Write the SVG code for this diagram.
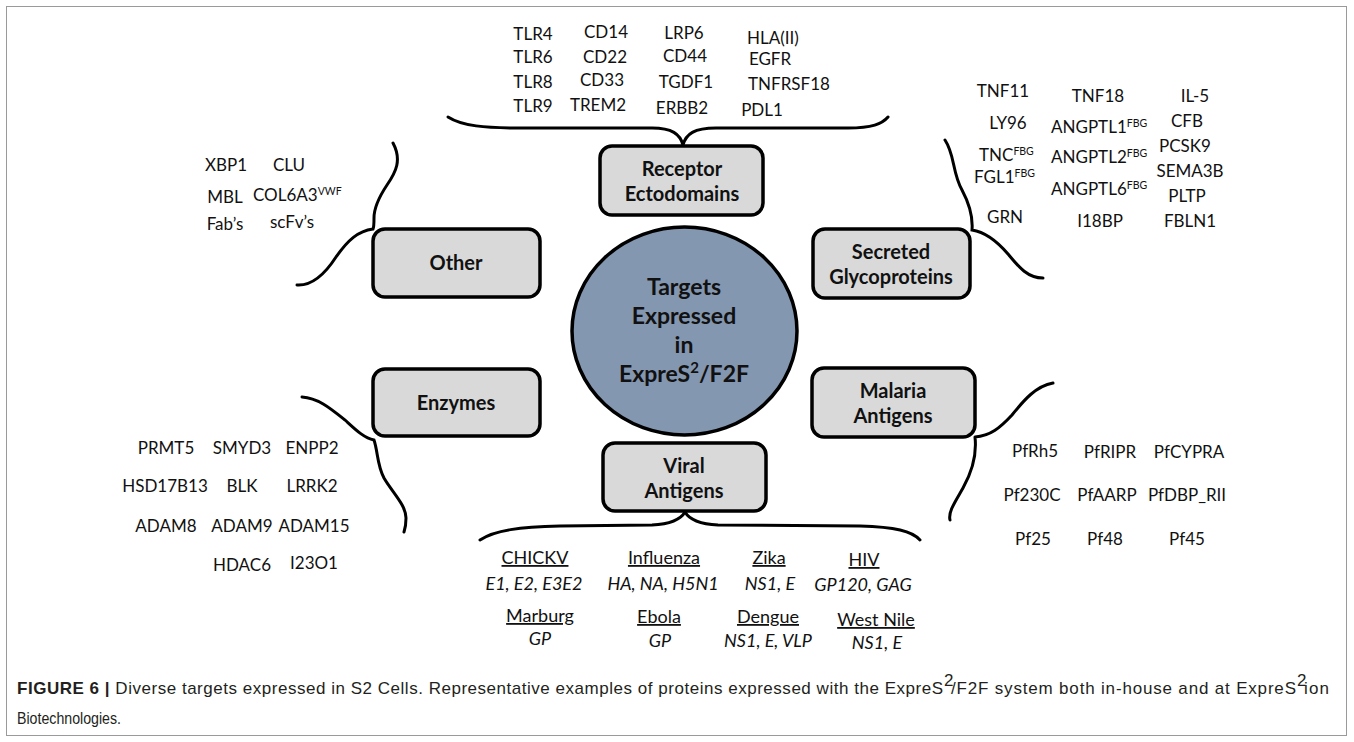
<svg xmlns="http://www.w3.org/2000/svg" width="1354" height="742" viewBox="0 0 1354 742">
<style>
.box{fill:#d9d9d9;stroke:#000;stroke-width:3.5}
.bl{font-family:Lato,"Open Sans","Liberation Sans",sans-serif;font-weight:bold;font-size:20px;fill:#111;text-anchor:middle}
.ct{font-family:Lato,"Open Sans","Liberation Sans",sans-serif;font-weight:bold;font-size:23px;fill:#111;text-anchor:middle}
.it{font-family:Lato,"Open Sans","Liberation Sans",sans-serif;font-size:17px;fill:#111;text-anchor:middle}
.st{font-family:Lato,"Open Sans","Liberation Sans",sans-serif;font-size:17px;fill:#111}
.sup{font-size:10.5px}
.vn{font-family:Lato,"Open Sans","Liberation Sans",sans-serif;font-size:18px;fill:#111;text-anchor:middle;text-decoration:underline}
.vi{font-family:Lato,"Open Sans","Liberation Sans",sans-serif;font-size:18px;font-style:italic;fill:#111;text-anchor:middle}
.br{fill:none;stroke:#000;stroke-width:3;stroke-linecap:round}
.cap{font-family:"Liberation Sans Narrow","Liberation Sans",Arial,sans-serif;font-size:17px;fill:#231f20}
</style>
<rect x="6.5" y="6.5" width="1340" height="729" fill="#fff" stroke="#9a9a9a" stroke-width="1"/>

<g id="connectors">
<path class="br" d="M448,117 C462,126 485,128 520,128 L652,128 C672,128 680,134 683,145 C686,134 694,128 716,128 L848,128 C872,128 882,124 888,117"/>
<path class="br" d="M480,540 C495,530 520,527 560,526 L652,525 C672,524 681,519 685,512 C689,519 698,524 718,525 L860,526 C895,527 912,531 920,540"/>
<path class="br" d="M393,143 C402,160 396,172 387,185 C379,197 374,208 374,218 C374,224 374,227 373,229 C358,231 348,240 336,257 C325,274 312,286 297,285"/>
<path class="br" d="M945,140 C955,155 952,172 962,190 C970,205 973,218 972,230 C985,232 996,240 1008,254 C1018,266 1027,278 1043,278"/>
<path class="br" d="M302,397 C318,398 330,408 345,420 C356,430 364,438 374,440 C378,452 377,465 384,478 C392,492 406,505 406,518 C406,525 405,529 404,532"/>
<path class="br" d="M975,437 C990,436 1000,428 1012,415 C1024,400 1036,386 1053,383 M975,437 C977,455 972,472 963,488 C955,502 948,512 950,520"/>
</g>

<g id="center">
<ellipse cx="684.5" cy="331" rx="112.5" ry="104" fill="#8497b0" stroke="#000" stroke-width="3.5"/>
<text class="ct" x="684" y="295">Targets</text>
<text class="ct" x="684" y="324">Expressed</text>
<text class="ct" x="684" y="353">in</text>
<text class="ct" x="684" y="382">ExpreS<tspan font-size="15" dy="-9">2</tspan><tspan dy="9">/F2F</tspan></text>
</g>

<g id="receptor-ectodomains">
<rect class="box" x="600" y="146" width="163" height="69" rx="12"/>
<text class="bl" x="682" y="176">Receptor</text>
<text class="bl" x="682" y="201">Ectodomains</text>
</g>
<g id="secreted-glycoproteins">
<rect class="box" x="813" y="229" width="157" height="69" rx="12"/>
<text class="bl" x="891" y="259">Secreted</text>
<text class="bl" x="891" y="284">Glycoproteins</text>
</g>
<g id="other">
<rect class="box" x="373" y="229" width="167" height="68" rx="12"/>
<text class="bl" x="456" y="270">Other</text>
</g>
<g id="enzymes">
<rect class="box" x="373" y="369" width="167" height="67" rx="12"/>
<text class="bl" x="456" y="410">Enzymes</text>
</g>
<g id="malaria-antigens">
<rect class="box" x="812" y="368" width="163" height="69" rx="12"/>
<text class="bl" x="893" y="398">Malaria</text>
<text class="bl" x="893" y="423">Antigens</text>
</g>
<g id="viral-antigens">
<rect class="box" x="603" y="443" width="163" height="68" rx="12"/>
<text class="bl" x="684" y="473">Viral</text>
<text class="bl" x="684" y="498">Antigens</text>
</g>

<g id="receptor-list">
<text class="it" x="533" y="40">TLR4</text>
<text class="it" x="606" y="38">CD14</text>
<text class="it" x="684" y="39">LRP6</text>
<text class="it" x="773" y="44">HLA(II)</text>
<text class="it" x="533" y="63">TLR6</text>
<text class="it" x="605" y="63">CD22</text>
<text class="it" x="685" y="62">CD44</text>
<text class="it" x="770" y="65">EGFR</text>
<text class="it" x="533" y="88">TLR8</text>
<text class="it" x="602" y="86">CD33</text>
<text class="it" x="686" y="88">TGDF1</text>
<text class="it" x="789" y="90">TNFRSF18</text>
<text class="it" x="533" y="112">TLR9</text>
<text class="it" x="598" y="111">TREM2</text>
<text class="it" x="682" y="114">ERBB2</text>
<text class="it" x="762" y="116">PDL1</text>
</g>

<g id="secreted-list">
<text class="it" x="1003" y="97">TNF11</text>
<text class="it" x="1098" y="102">TNF18</text>
<text class="it" x="1195" y="102">IL-5</text>
<text class="it" x="1008" y="129">LY96</text>
<text class="st" x="1051" y="133">ANGPTL1<tspan class="sup" dy="-6">FBG</tspan></text>
<text class="it" x="1187" y="127">CFB</text>
<text class="st" x="979" y="161">TNC<tspan class="sup" dy="-6">FBG</tspan></text>
<text class="st" x="1051" y="163">ANGPTL2<tspan class="sup" dy="-6">FBG</tspan></text>
<text class="it" x="1185" y="152">PCSK9</text>
<text class="st" x="974" y="183">FGL1<tspan class="sup" dy="-6">FBG</tspan></text>
<text class="it" x="1190" y="177">SEMA3B</text>
<text class="st" x="1051" y="195">ANGPTL6<tspan class="sup" dy="-6">FBG</tspan></text>
<text class="it" x="1187" y="202">PLTP</text>
<text class="it" x="1005" y="223">GRN</text>
<text class="it" x="1100" y="227">I18BP</text>
<text class="it" x="1190" y="227">FBLN1</text>
</g>

<g id="other-list">
<text class="it" x="226" y="171">XBP1</text>
<text class="it" x="289" y="171">CLU</text>
<text class="it" x="225" y="203">MBL</text>
<text class="st" x="253" y="201">COL6A3<tspan class="sup" dy="-6">VWF</tspan></text>
<text class="it" x="225" y="230">Fab’s</text>
<text class="it" x="292" y="228">scFv’s</text>
</g>

<g id="enzyme-list">
<text class="it" x="166" y="454">PRMT5</text>
<text class="it" x="242" y="454">SMYD3</text>
<text class="it" x="312" y="454">ENPP2</text>
<text class="it" x="165" y="492">HSD17B13</text>
<text class="it" x="242" y="492">BLK</text>
<text class="it" x="312" y="492">LRRK2</text>
<text class="it" x="166" y="532">ADAM8</text>
<text class="it" x="242" y="532">ADAM9</text>
<text class="it" x="314" y="532">ADAM15</text>
<text class="it" x="242" y="571">HDAC6</text>
<text class="it" x="314" y="569">I23O1</text>
</g>

<g id="malaria-list">
<text class="it" x="1035" y="457">PfRh5</text>
<text class="it" x="1110" y="458">PfRIPR</text>
<text class="it" x="1189" y="458">PfCYPRA</text>
<text class="it" x="1032" y="501">Pf230C</text>
<text class="it" x="1107" y="501">PfAARP</text>
<text class="it" x="1187" y="501">PfDBP_RII</text>
<text class="it" x="1033" y="545">Pf25</text>
<text class="it" x="1105" y="545">Pf48</text>
<text class="it" x="1187" y="545">Pf45</text>
</g>

<g id="viral-list">
<text class="vn" x="535" y="564">CHICKV</text>
<text class="vi" x="534" y="590">E1, E2, E3E2</text>
<text class="vn" x="664" y="564">Influenza</text>
<text class="vi" x="663" y="590">HA, NA, H5N1</text>
<text class="vn" x="769" y="564">Zika</text>
<text class="vi" x="770" y="590">NS1, E</text>
<text class="vn" x="864" y="566">HIV</text>
<text class="vi" x="863" y="591">GP120, GAG</text>
<text class="vn" x="540" y="622">Marburg</text>
<text class="vi" x="540" y="645">GP</text>
<text class="vn" x="659" y="623">Ebola</text>
<text class="vi" x="660" y="647">GP</text>
<text class="vn" x="768" y="623">Dengue</text>
<text class="vi" x="768" y="647">NS1, E, VLP</text>
<text class="vn" x="876" y="626">West Nile</text>
<text class="vi" x="877" y="649">NS1, E</text>
</g>

<g id="caption">
<text class="cap" x="17" y="694" textLength="926" lengthAdjust="spacing"><tspan font-weight="bold">FIGURE 6 |</tspan> Diverse targets expressed in S2 Cells. Representative examples of proteins expressed with the ExpreS</text>
<text class="cap" x="944" y="686" font-size="10">2</text>
<text class="cap" x="951" y="694" textLength="345" lengthAdjust="spacing">/F2F system both in-house and at ExpreS</text>
<text class="cap" x="1297" y="686" font-size="10">2</text>
<text class="cap" x="1304" y="694" textLength="25" lengthAdjust="spacing">ion</text>
<text class="cap" x="17" y="724" textLength="104" lengthAdjust="spacingAndGlyphs">Biotechnologies.</text>
</g>
</svg>
